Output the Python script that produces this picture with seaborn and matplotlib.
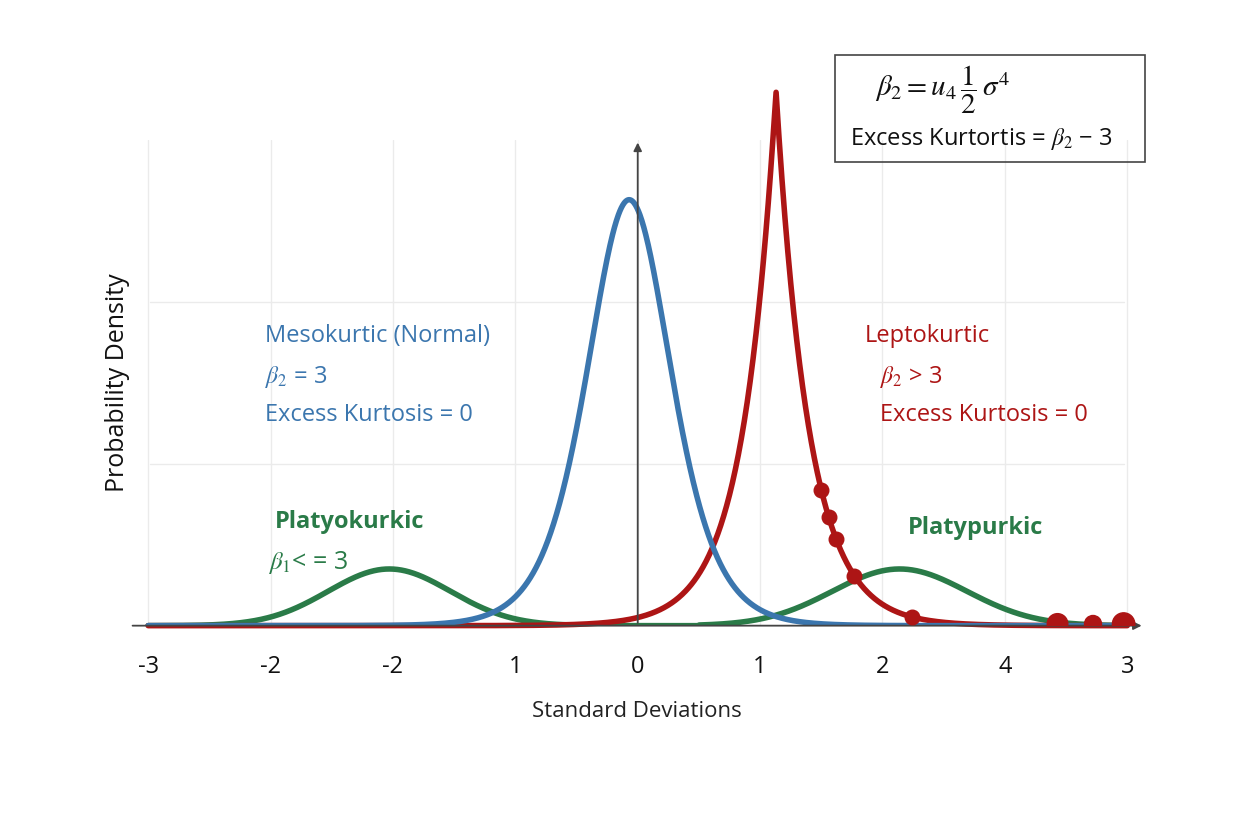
import numpy as np
import matplotlib.pyplot as plt
import seaborn as sns
from matplotlib.patches import Rectangle

sns.set_theme(style="white")
plt.rcParams['font.family'] = ['Open Sans', 'DejaVu Sans']
plt.rcParams['mathtext.fontset'] = 'stix'

# tick positions and their printed labels (as in the picture)
tick_pos = [-4, -3, -2, -1, 0, 1, 2, 3, 4]
tick_labels = ["-3", "-2", "-2", "1", "0", "1", "2", "4", "3"]

# curve parameters
blue_center, blue_scale, blue_peak = -0.07, 0.23, 0.263      # logistic
red_center, red_scale, red_peak = 1.13, 0.27, 0.33           # laplace
green_left = (-2.03, 0.5, 0.035)                              # gaussian
green_right = (2.14, 0.55, 0.035)

red_dots_small = [1.50, 1.56, 1.62, 1.77, 2.24]
red_dots_big = [3.43, 3.72, 3.97]

blue_c, red_c, green_c = "#3b76ae", "#ad1515", "#2a7b48"

x = np.linspace(-4, 4, 2000)
blue = blue_peak / np.cosh((x - blue_center) / (2 * blue_scale)) ** 2
red = red_peak * np.exp(-np.abs(x - red_center) / red_scale)
def gauss(xx, p):
    return p[2] * np.exp(-0.5 * ((xx - p[0]) / p[1]) ** 2)
green_l = np.where(x < 0.5, gauss(x, green_left), np.nan)
green_r = np.where(x > 0.5, gauss(x, green_right), np.nan)

fig = plt.figure(figsize=(12.48, 8.32), dpi=100)
ax = fig.add_axes([0.104, 0.248, 0.813, 0.584])

for gx in tick_pos:
    ax.axvline(gx, color="#ebebeb", lw=1, zorder=0)
for gy in [0.1, 0.2]:
    ax.axhline(gy, color="#ebebeb", lw=1, zorder=0, xmin=0.02, xmax=0.98)

sns.lineplot(x=x, y=green_l, color=green_c, lw=4, ax=ax)
sns.lineplot(x=x, y=green_r, color=green_c, lw=4, ax=ax)
sns.lineplot(x=x, y=red, color=red_c, lw=4, ax=ax)
ax.lines[-1].set_clip_on(False)
sns.lineplot(x=x, y=blue, color=blue_c, lw=4, ax=ax)

rd = np.array(red_dots_small)
ax.scatter(rd, red_peak * np.exp(-np.abs(rd - red_center) / red_scale),
           s=110, color=red_c, zorder=5)
rb = np.array(red_dots_big)
ax.scatter(rb, red_peak * np.exp(-np.abs(rb - red_center) / red_scale) + 0.001,
           s=[220, 150, 260], color=red_c, zorder=5)

ax.set_xlim(-4.15, 4.14)
ax.set_ylim(0, 0.3)
sns.despine(ax=ax, left=True, top=True, right=True, bottom=True)
ax.annotate("", xy=(4.14, 0), xytext=(-4.15, 0),
            arrowprops=dict(arrowstyle="-|>", color="#444444", lw=1.3),
            annotation_clip=False)
ax.annotate("", xy=(0, 0.3), xytext=(0, 0),
            arrowprops=dict(arrowstyle="-|>", color="#444444", lw=1.3),
            annotation_clip=False)
ax.set_xticks(tick_pos)
ax.set_xticklabels(tick_labels, fontsize=17, color="#111111")
ax.tick_params(axis="x", length=0, pad=21)
ax.set_yticks([])
ax.set_xlabel("Standard Deviations", fontsize=16, labelpad=16, color="#222222")
ax.set_ylabel("Probability Density", fontsize=18, labelpad=0, color="#111111")

W, H = 1248, 832
def ft(px, py, s, **kw):
    fig.text(px / W, 1 - py / H, s, va="center", **kw)

ft(265, 336, "Mesokurtic (Normal)", color=blue_c, fontsize=17)
ft(265, 377, r"$\beta_2$ = 3", color=blue_c, fontsize=17)
ft(265, 415, "Excess Kurtosis = 0", color=blue_c, fontsize=17)
ft(865, 336, "Leptokurtic", color=red_c, fontsize=17)
ft(880, 377, r"$\beta_2$ > 3", color=red_c, fontsize=17)
ft(880, 415, "Excess Kurtosis = 0", color=red_c, fontsize=17)
ft(275, 522, "Platyokurkic", color=green_c, fontsize=17, fontweight="bold")
ft(268, 563, r"$\beta_1$< = 3", color=green_c, fontsize=18)
ft(908, 528, "Platypurkic", color=green_c, fontsize=17, fontweight="bold")

fig.patches.append(Rectangle((835 / W, 1 - 162 / H), 310 / W, 107 / H,
                             transform=fig.transFigure, fill=False,
                             edgecolor="#444444", lw=1.2))
ft(875, 90, r"$\beta_2 = u_4\,\dfrac{1}{2}\,\sigma^4$", color="#111111", fontsize=21)
ft(850, 139, r"Excess Kurtortis = $\beta_2$ − 3", color="#111111", fontsize=17)

fig.savefig("out.png", dpi=100)
